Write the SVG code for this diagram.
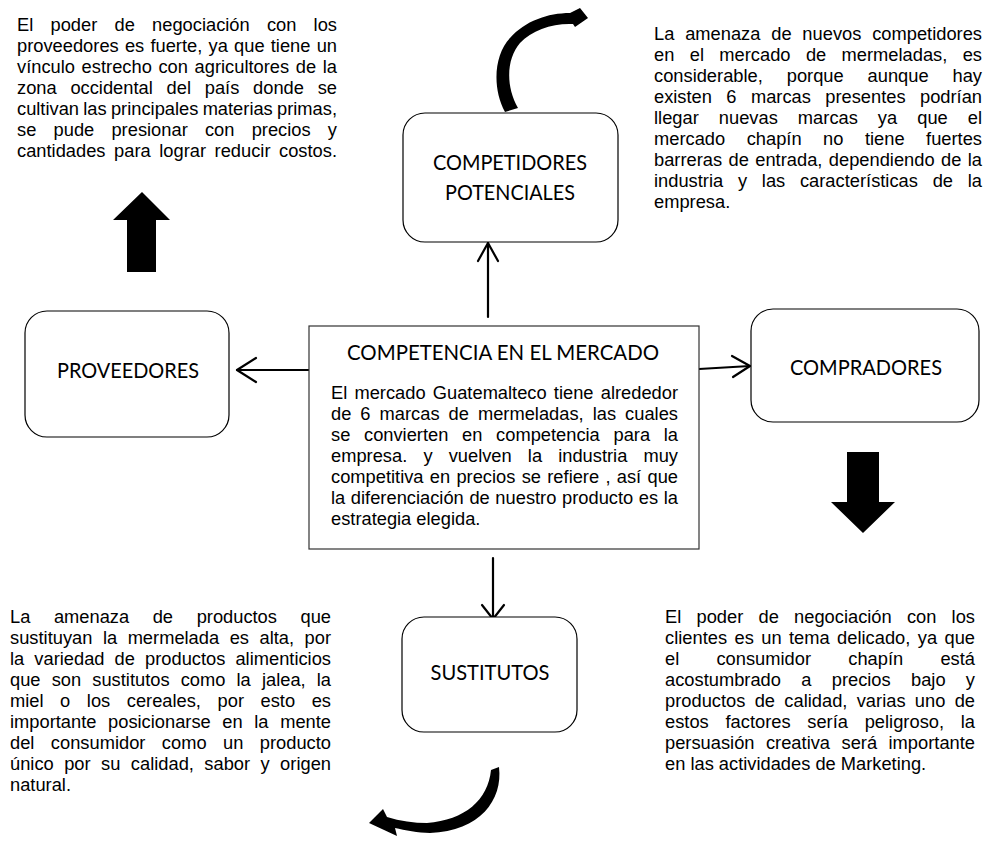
<svg xmlns="http://www.w3.org/2000/svg" width="988" height="841" viewBox="0 0 988 841">
<style>
.bg{fill:#fff}
.box{fill:#fff;stroke:#000;stroke-width:1.2}
.cbox{fill:#fff;stroke:#333;stroke-width:1.2}
.lbl{font-family:Lato,"Open Sans",sans-serif;font-size:22px;fill:#000;text-anchor:middle}
.txt{font-family:"Liberation Sans",Arial,sans-serif;font-size:18.3px;fill:#000}
.con{fill:none;stroke:#000;stroke-width:2.2;stroke-linecap:round;stroke-linejoin:round}
.blk{fill:#000;stroke:none}
</style>
<rect class="bg" x="0" y="0" width="988" height="841"/>

<g id="text-proveedores-info" class="txt">
<text x="17" y="31" word-spacing="12.1" textLength="320" lengthAdjust="spacing">El poder de negociación con los</text>
<text x="17" y="52" word-spacing="1.1" textLength="320" lengthAdjust="spacing">proveedores es fuerte, ya que tiene un</text>
<text x="17" y="73" word-spacing="1.5" textLength="320" lengthAdjust="spacing">vínculo estrecho con agricultores de la</text>
<text x="17" y="94" word-spacing="8.7" textLength="320" lengthAdjust="spacing">zona occidental del país donde se</text>
<text x="17" y="115" word-spacing="-0.8" textLength="320" lengthAdjust="spacing">cultivan las principales materias primas,</text>
<text x="17" y="136" word-spacing="12.1" textLength="320" lengthAdjust="spacing">se pude presionar con precios y</text>
<text x="17" y="157" word-spacing="3.5" textLength="320" lengthAdjust="spacing">cantidades para lograr reducir costos.</text>
</g>

<g id="text-competidores-info" class="txt">
<text x="654" y="40" word-spacing="5.7" textLength="328" lengthAdjust="spacing">La amenaza de nuevos competidores</text>
<text x="654" y="61" word-spacing="10.3" textLength="328" lengthAdjust="spacing">en el mercado de mermeladas, es</text>
<text x="654" y="82" word-spacing="18.8" textLength="328" lengthAdjust="spacing">considerable, porque aunque hay</text>
<text x="654" y="103" word-spacing="9.3" textLength="328" lengthAdjust="spacing">existen 6 marcas presentes podrían</text>
<text x="654" y="124" word-spacing="14.9" textLength="328" lengthAdjust="spacing">llegar nuevas marcas ya que el</text>
<text x="654" y="145" word-spacing="16.4" textLength="328" lengthAdjust="spacing">mercado chapín no tiene fuertes</text>
<text x="654" y="166" word-spacing="1.3" textLength="328" lengthAdjust="spacing">barreras de entrada, dependiendo de la</text>
<text x="654" y="187" word-spacing="9.7" textLength="328" lengthAdjust="spacing">industria y las características de la</text>
<text x="654" y="208">empresa.</text>
</g>

<g id="text-sustitutos-info" class="txt">
<text x="10" y="623" word-spacing="18.5" textLength="321" lengthAdjust="spacing">La amenaza de productos que</text>
<text x="10" y="644" word-spacing="5.4" textLength="321" lengthAdjust="spacing">sustituyan la mermelada es alta, por</text>
<text x="10" y="665" word-spacing="5.0" textLength="321" lengthAdjust="spacing">la variedad de productos alimenticios</text>
<text x="10" y="686" word-spacing="6.0" textLength="321" lengthAdjust="spacing">que son sustitutos como la jalea, la</text>
<text x="10" y="707" word-spacing="11.5" textLength="321" lengthAdjust="spacing">miel o los cereales, por esto es</text>
<text x="10" y="728" word-spacing="6.5" textLength="321" lengthAdjust="spacing">importante posicionarse en la mente</text>
<text x="10" y="749" word-spacing="11.3" textLength="321" lengthAdjust="spacing">del consumidor como un producto</text>
<text x="10" y="770" word-spacing="5.3" textLength="321" lengthAdjust="spacing">único por su calidad, sabor y origen</text>
<text x="10" y="791">natural.</text>
</g>

<g id="text-compradores-info" class="txt">
<text x="665" y="623" word-spacing="10.1" textLength="310" lengthAdjust="spacing">El poder de negociación con los</text>
<text x="665" y="644" word-spacing="2.3" textLength="310" lengthAdjust="spacing">clientes es un tema delicado, ya que</text>
<text x="665" y="665" word-spacing="32.1" textLength="310" lengthAdjust="spacing">el consumidor chapín está</text>
<text x="665" y="686" word-spacing="15.2" textLength="310" lengthAdjust="spacing">acostumbrado a precios bajo y</text>
<text x="665" y="707" word-spacing="4.2" textLength="310" lengthAdjust="spacing">productos de calidad, varias uno de</text>
<text x="665" y="728" word-spacing="11.6" textLength="310" lengthAdjust="spacing">estos factores sería peligroso, la</text>
<text x="665" y="749" word-spacing="6.4" textLength="310" lengthAdjust="spacing">persuasión creativa será importante</text>
<text x="665" y="770">en las actividades de Marketing.</text>
</g>

<g id="connectors">
<line class="con" x1="488" y1="317" x2="488" y2="243"/>
<polyline class="con" points="478,261 488,243 498,261"/>
<line class="con" x1="309" y1="370" x2="237" y2="370"/>
<polyline class="con" points="256,358 237,370 256,382"/>
<line class="con" x1="699" y1="369" x2="750" y2="366"/>
<polyline class="con" points="732,356 750,366 733,377"/>
<line class="con" x1="493" y1="558" x2="493" y2="619"/>
<polyline class="con" points="482,605 493,619 504,605"/>
</g>

<g id="arrow-up-proveedores">
<polygon class="blk" points="142,192 170,220 156,220 156,272 127,272 127,220 113,220"/>
</g>
<g id="arrow-down-compradores">
<polygon class="blk" points="847,452 879,452 879,502 895,502 863,533 831,502 847,502"/>
</g>
<g id="curve-competidores">
<path class="blk" d="M505,112 C492,88 494,55 510,38 C525,21 548,13 570,13 L580,8 L588,18 L575,27 L573,24 C553,23 532,30 520,43 C507,58 505,85 518,108 Z"/>
</g>
<g id="curve-sustitutos">
<path class="blk" d="M499,767 C503,800 480,831 430,833 C418,833 405,830 395,828 L397,836 L369,823 L383,809 L387,817 C400,821 414,823 427,823 C465,820 488,800 491,770 Z"/>
</g>

<g id="node-competidores">
<rect class="box" x="403" y="113" width="215" height="129" rx="22"/>
<text class="lbl" x="510" y="170" textLength="154" lengthAdjust="spacingAndGlyphs">COMPETIDORES</text>
<text class="lbl" x="510" y="200" textLength="130" lengthAdjust="spacingAndGlyphs">POTENCIALES</text>
</g>
<g id="node-proveedores">
<rect class="box" x="25" y="311" width="204" height="126" rx="22"/>
<text class="lbl" x="128" y="378" textLength="142" lengthAdjust="spacingAndGlyphs">PROVEEDORES</text>
</g>
<g id="node-compradores">
<rect class="box" x="751" y="309" width="228" height="113" rx="22"/>
<text class="lbl" x="866" y="375" textLength="152" lengthAdjust="spacingAndGlyphs">COMPRADORES</text>
</g>
<g id="node-sustitutos">
<rect class="box" x="402" y="617" width="175" height="115" rx="22"/>
<text class="lbl" x="490" y="680" textLength="119" lengthAdjust="spacingAndGlyphs">SUSTITUTOS</text>
</g>
<g id="node-competencia">
<rect class="cbox" x="309" y="326" width="390" height="223"/>
<text class="lbl" x="503" y="360" textLength="312" lengthAdjust="spacingAndGlyphs">COMPETENCIA EN EL MERCADO</text>
<g class="txt">
<text x="331" y="399" word-spacing="2.1" textLength="347" lengthAdjust="spacing">El mercado Guatemalteco tiene alrededor</text>
<text x="331" y="420" word-spacing="3.9" textLength="347" lengthAdjust="spacing">de 6 marcas de mermeladas, las cuales</text>
<text x="331" y="441" word-spacing="8.6" textLength="347" lengthAdjust="spacing">se convierten en competencia para la</text>
<text x="331" y="462" word-spacing="11.0" textLength="347" lengthAdjust="spacing">empresa. y vuelven la industria muy</text>
<text x="331" y="483" word-spacing="1.2" textLength="347" lengthAdjust="spacing">competitiva en precios se refiere , así que</text>
<text x="331" y="504" word-spacing="0.5" textLength="347" lengthAdjust="spacing">la diferenciación de nuestro producto es la</text>
<text x="331" y="525">estrategia elegida.</text>
</g>
</g>
</svg>
